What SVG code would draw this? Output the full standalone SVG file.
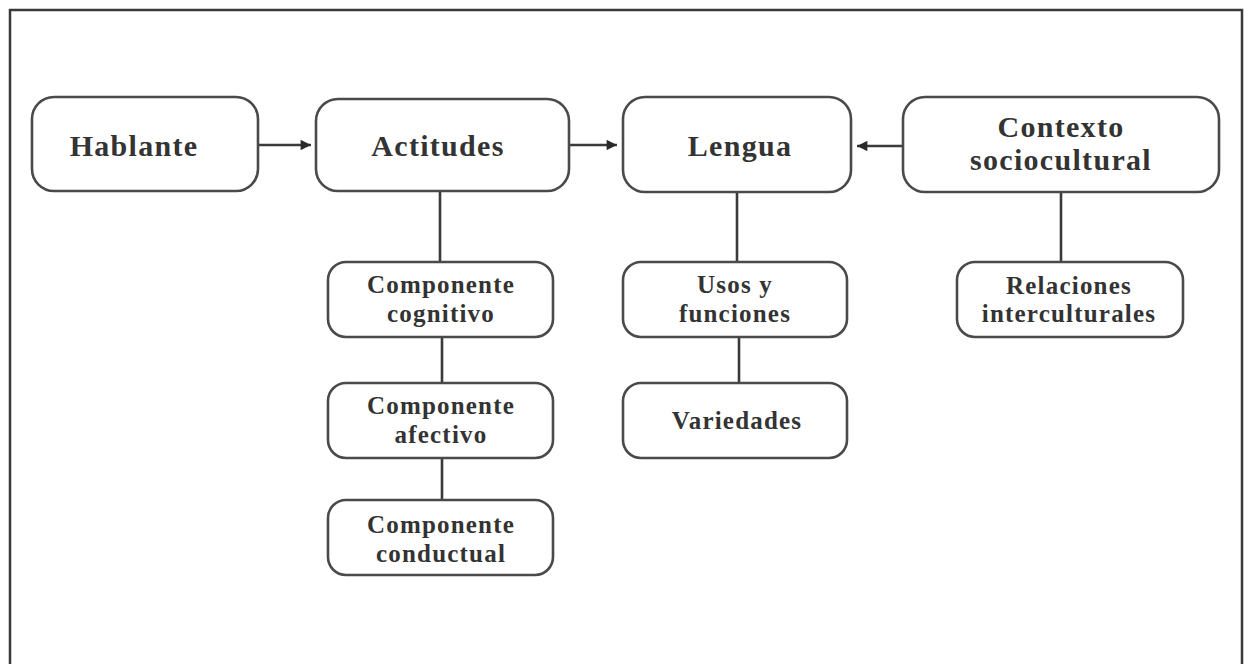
<svg xmlns="http://www.w3.org/2000/svg" width="1248" height="664" viewBox="0 0 1248 664">
  <style>
    .box { fill: #fff; stroke: #4a4a4a; stroke-width: 2.6; }
    .lbl { font-family: "Liberation Serif", "DejaVu Serif", serif; font-weight: bold; fill: #333; text-anchor: middle; }
    .big { font-size: 30px; letter-spacing: 1.3px; }
    .small { font-size: 25px; letter-spacing: 1.2px; }
    .wire { stroke: #3a3a3a; stroke-width: 2.6; fill: none; }
  </style>
  <defs>
    <marker id="arrow" viewBox="0 0 10 10" refX="10" refY="5" markerWidth="5" markerHeight="4" orient="auto" markerUnits="strokeWidth">
      <path d="M0,0 L10,5 L0,10 Z" fill="#2a2a2a"/>
    </marker>
  </defs>
  <rect width="1248" height="664" fill="#fff"/>
  <!-- outer frame, open at the bottom -->
  <path d="M10,664 V10 H1242 V664" fill="none" stroke="#3a3a3a" stroke-width="2.5"/>

  <g id="connectors">
    <line class="wire" x1="258" y1="145" x2="311" y2="145" marker-end="url(#arrow)"/>
    <line class="wire" x1="569" y1="145" x2="617" y2="145" marker-end="url(#arrow)"/>
    <line class="wire" x1="903" y1="146" x2="857" y2="146" marker-end="url(#arrow)"/>
    <line class="wire" x1="440" y1="191" x2="440" y2="262"/>
    <line class="wire" x1="442" y1="337" x2="442" y2="383"/>
    <line class="wire" x1="442" y1="458" x2="442" y2="500"/>
    <line class="wire" x1="737" y1="192" x2="737" y2="262"/>
    <line class="wire" x1="739" y1="337" x2="739" y2="383"/>
    <line class="wire" x1="1061" y1="192" x2="1061" y2="262"/>
  </g>

  <g id="hablante">
    <rect class="box" x="32" y="97" width="226" height="94" rx="22"/>
    <text class="lbl big" x="134" y="156">Hablante</text>
  </g>
  <g id="actitudes">
    <rect class="box" x="316" y="99" width="253" height="92" rx="22"/>
    <text class="lbl big" x="438" y="156">Actitudes</text>
  </g>
  <g id="lengua">
    <rect class="box" x="623" y="97" width="228" height="95" rx="22"/>
    <text class="lbl big" x="740" y="156">Lengua</text>
  </g>
  <g id="contexto">
    <rect class="box" x="903" y="97" width="316" height="95" rx="22"/>
    <text class="lbl big" x="1061" y="137">Contexto</text>
    <text class="lbl big" x="1061" y="170">sociocultural</text>
  </g>
  <g id="cognitivo">
    <rect class="box" x="328" y="262" width="225" height="75" rx="18"/>
    <text class="lbl small" x="441" y="293">Componente</text>
    <text class="lbl small" x="441" y="322">cognitivo</text>
  </g>
  <g id="afectivo">
    <rect class="box" x="328" y="383" width="225" height="75" rx="18"/>
    <text class="lbl small" x="441" y="414">Componente</text>
    <text class="lbl small" x="441" y="443">afectivo</text>
  </g>
  <g id="conductual">
    <rect class="box" x="328" y="500" width="225" height="75" rx="18"/>
    <text class="lbl small" x="441" y="533">Componente</text>
    <text class="lbl small" x="441" y="562">conductual</text>
  </g>
  <g id="usos">
    <rect class="box" x="623" y="262" width="224" height="75" rx="18"/>
    <text class="lbl small" x="735" y="293">Usos y</text>
    <text class="lbl small" x="735" y="322">funciones</text>
  </g>
  <g id="variedades">
    <rect class="box" x="623" y="383" width="224" height="75" rx="18"/>
    <text class="lbl small" x="737" y="429">Variedades</text>
  </g>
  <g id="relaciones">
    <rect class="box" x="957" y="262" width="226" height="75" rx="18"/>
    <text class="lbl small" x="1069" y="294">Relaciones</text>
    <text class="lbl small" x="1069" y="322">interculturales</text>
  </g>
</svg>
